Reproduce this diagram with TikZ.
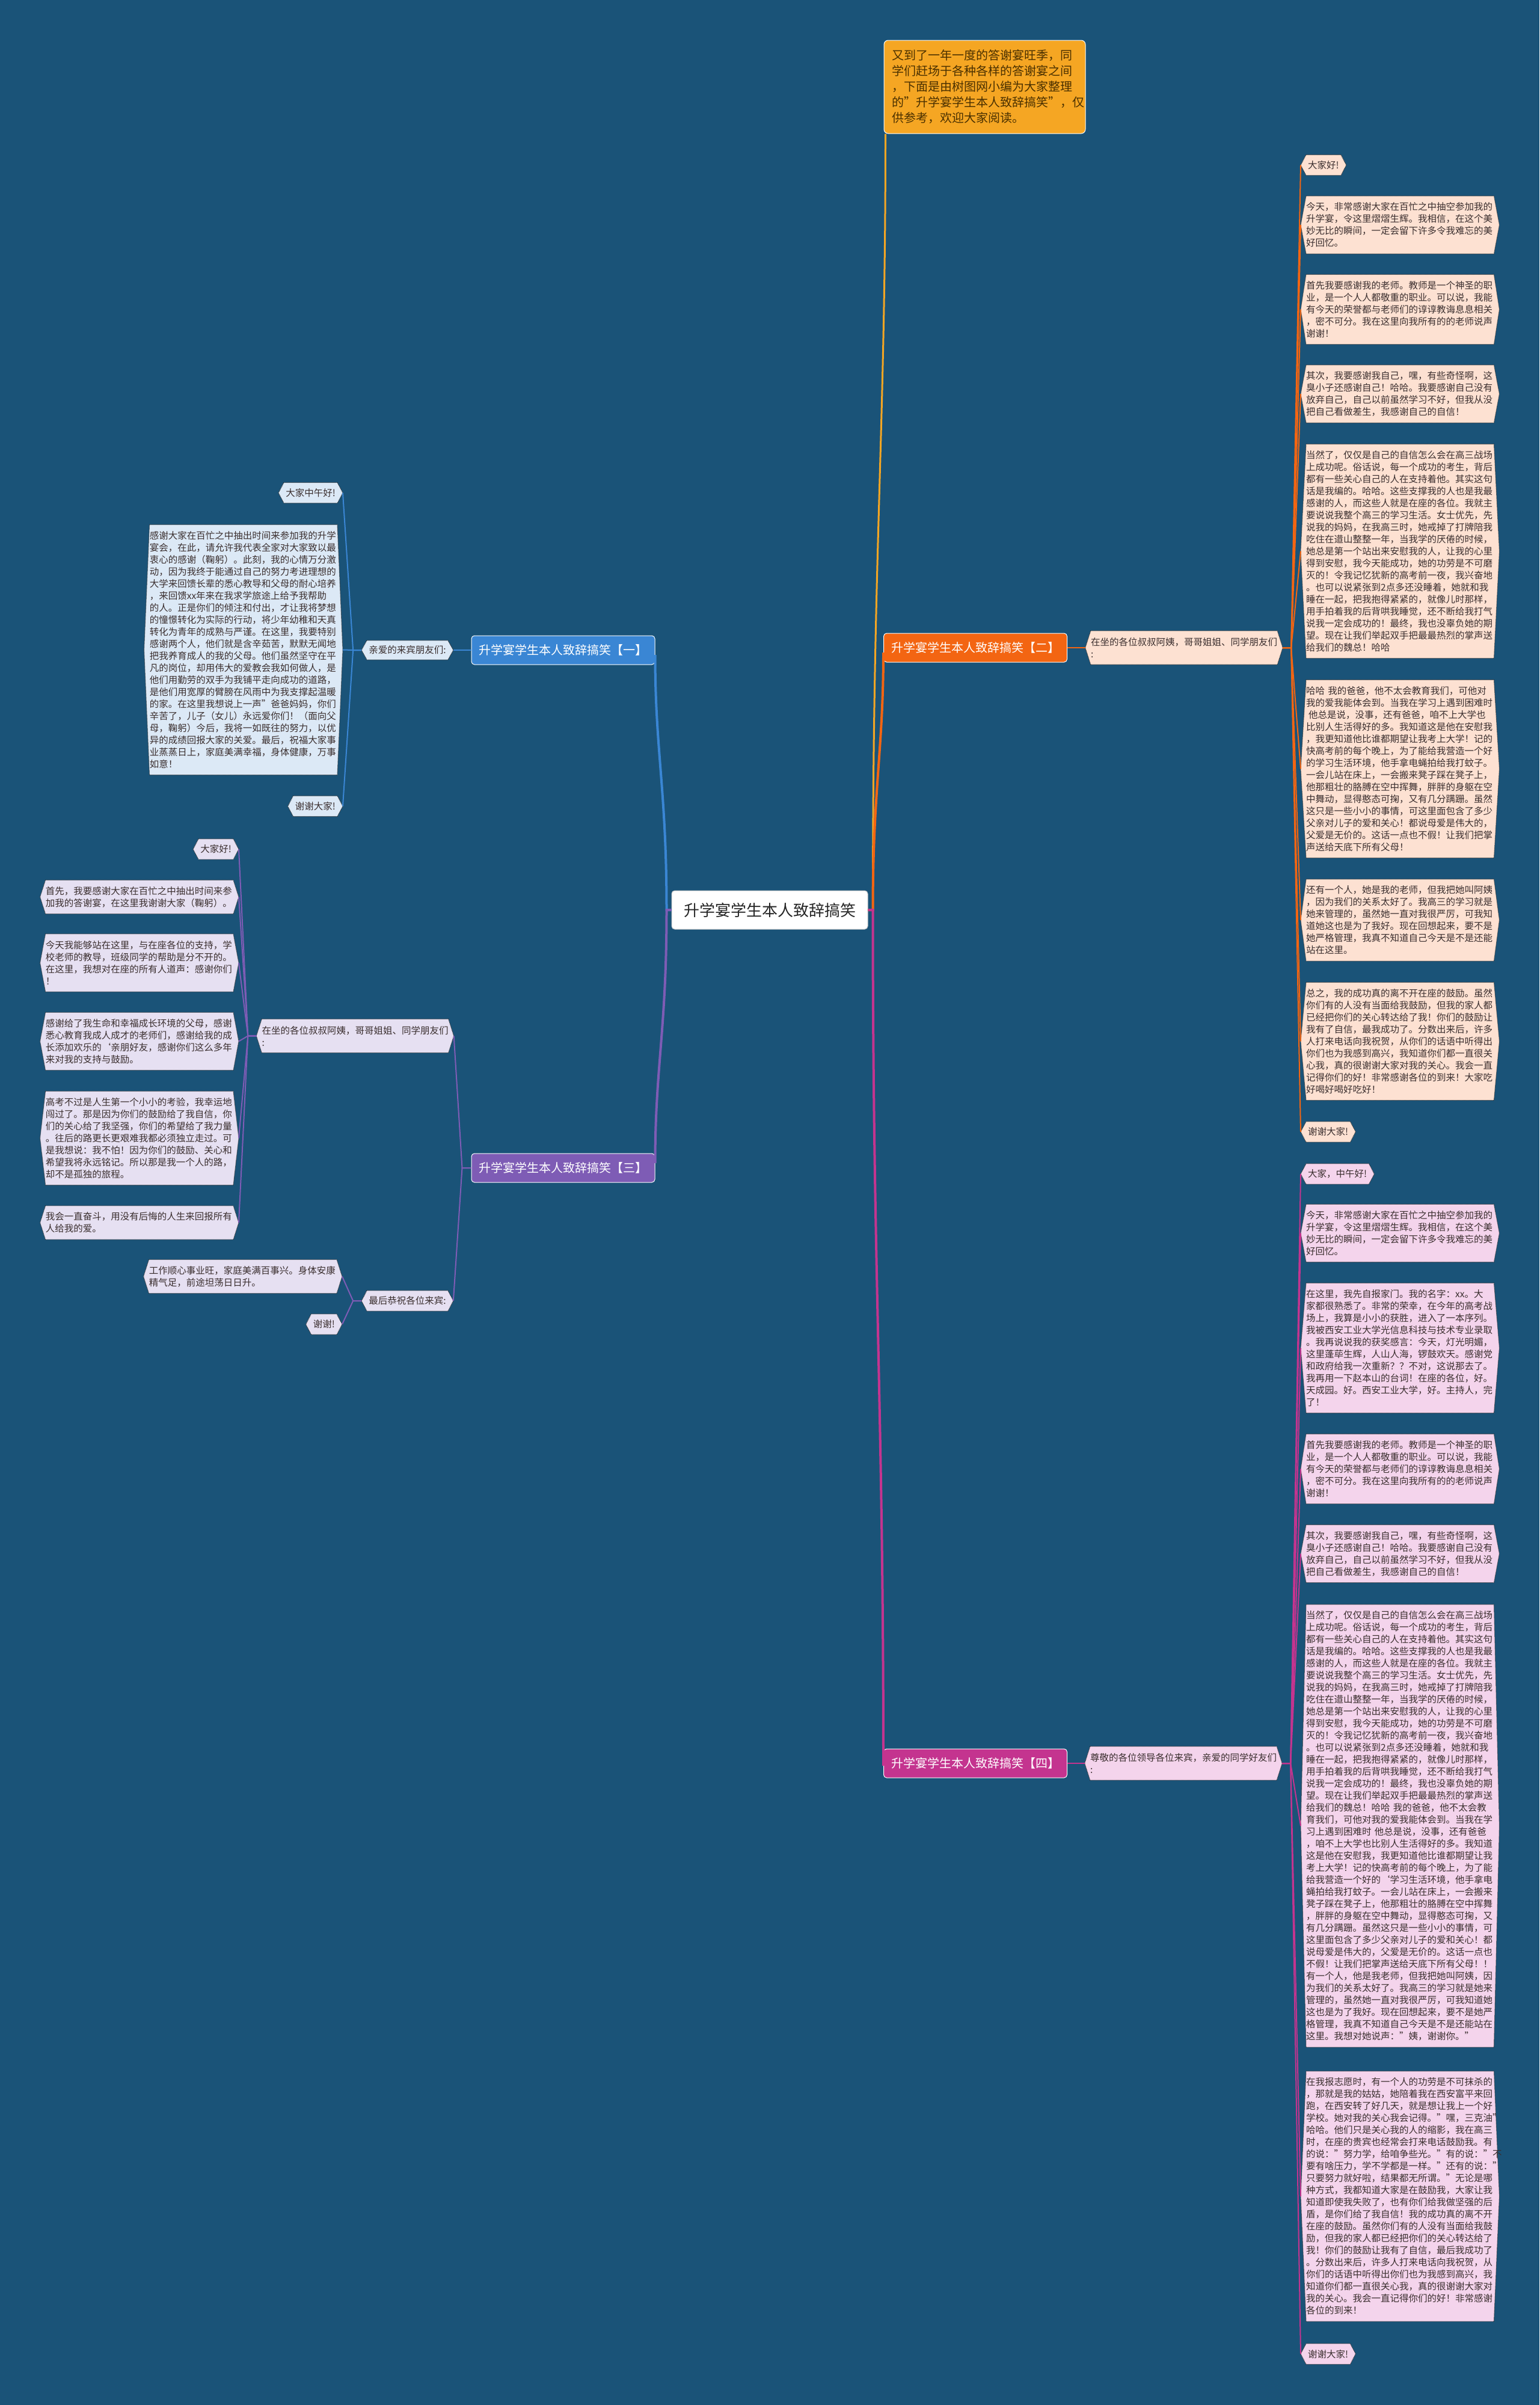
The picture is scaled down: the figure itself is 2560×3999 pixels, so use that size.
\documentclass[tikz,border=0pt]{standalone}
\usepackage{fontspec}
\setmainfont{Noto Sans CJK SC}
\usetikzlibrary{calc}
\pgfdeclarelayer{background}
\pgfsetlayers{background,main}
\definecolor{bgc}{HTML}{1A5378}
\definecolor{leaftxt}{HTML}{3A2E2E}
\definecolor{dotc}{HTML}{2A2A2A}
\definecolor{cblue}{HTML}{3A86D4}
\definecolor{corange}{HTML}{F36512}
\definecolor{cpurple}{HTML}{7E5CB5}
\definecolor{cpink}{HTML}{C4348F}
\definecolor{cnote}{HTML}{F5A623}
\definecolor{fpeach}{HTML}{FDE1D2}
\definecolor{fblue}{HTML}{DCE9F6}
\definecolor{flav}{HTML}{E6E0F2}
\definecolor{fpink}{HTML}{F4D4EC}
\definecolor{notetxt}{HTML}{4A3000}
\newcommand\hexify[2]{%
  \begin{pgfonlayer}{background}
  \path[fill=#2, draw=dotc, line width=1pt, dash pattern=on 1pt off 1pt]
    (#1.north west) -- (#1.north east) -- ($(#1.east)+(9,0)$) -- (#1.south east)
    -- (#1.south west) -- ($(#1.west)+(-9,0)$) -- cycle;
  \end{pgfonlayer}}
\tikzset{
  txt/.style={font=\fontsize{15.5}{20}\selectfont, text=leaftxt},
  big/.style={txt, inner xsep=0pt, inner ysep=0pt, text width=312pt, align=left, minimum height={20*#1+16}},
  small/.style={txt, inner xsep=3pt, inner ysep=0pt, minimum height=34pt},
  lab/.style={txt, inner xsep=3pt, inner ysep=0pt, minimum height=#1, align=left},
  brnode/.style={rectangle, rounded corners=5pt, minimum width=305pt, minimum height=48pt,
    font=\fontsize{20}{24}\selectfont, text=white, draw=white!75, line width=1pt, fill=#1},
  mc/.style={line width=4pt, draw=#1},
  sc/.style={line width=2pt, draw=#1}
}
\begin{document}
\begin{tikzpicture}[x=1pt,y=-1pt]
\useasboundingbox (0,0) rectangle (2560,3999);
\begin{pgfonlayer}{background}
\fill[bgc] (0,0) rectangle (2560,3999);
\end{pgfonlayer}

% centre, note and branches
\node[rectangle, rounded corners=5pt, minimum width=326pt, minimum height=64pt, fill=white!95!blue!3,
  draw=gray!40, line width=1pt, font=\fontsize{26}{30}\selectfont, text=black!85] (ctr) at (1280,1513) {升学宴学生本人致辞搞笑};
\node[rectangle, rounded corners=7pt, minimum width=335pt, minimum height=155pt, text width=308pt,
  inner xsep=13.5pt, align=left, fill=cnote, draw=white!85, line width=1pt,
  font=\fontsize{20}{26}\selectfont, text=notetxt] (note) at (1637.5,144.5)
  {又到了一年一度的答谢宴旺季，同\\学们赶场于各种各样的答谢宴之间\\，下面是由树图网小编为大家整理\\的"升学宴学生本人致辞搞笑"，仅\\供参考，欢迎大家阅读。};
\node[brnode=cblue] (br1) at (936.5,1081) {升学宴学生本人致辞搞笑【一】};
\node[brnode=corange] (br2) at (1622,1077) {升学宴学生本人致辞搞笑【二】};
\node[brnode=cpurple] (br3) at (936.5,1942) {升学宴学生本人致辞搞笑【三】};
\node[brnode=cpink] (br4) at (1622,2932) {升学宴学生本人致辞搞笑【四】};

\coordinate (cr) at ($(ctr.east)+(8,0)$);
\coordinate (cl) at ($(ctr.west)+(-8,0)$);
\draw[mc=cnote, line width=3pt] (ctr.east) -- (cr) .. controls +(0,-600) and +(0,500) .. ($(note.south west)+(3,0)$);
\draw[mc=corange] (ctr.east) -- (cr) .. controls +(0,-200) and +(0,160) .. ($(br2.west)+(0,8)$);
\draw[mc=cpink] (ctr.east) -- (cr) .. controls +(0,600) and +(0,-600) .. ($(br4.west)+(0,4)$);
\draw[mc=cblue] (ctr.west) -- (cl) .. controls +(0,-200) and +(0,160) .. ($(br1.east)+(0,8)$);
\draw[mc=cpurple] (ctr.west) -- (cl) .. controls +(0,200) and +(0,-160) .. ($(br3.east)+(0,-8)$);

% labels
\node[lab=32pt] (l1) at (677.5,1081) {亲爱的来宾朋友们:};
\hexify{l1}{fblue}
\node[lab=56pt, text width=310pt, inner xsep=0pt] (l2) at (1969,1077) {在坐的各位叔叔阿姨，哥哥姐姐、同学朋友们\\:};
\hexify{l2}{fpeach}
\node[lab=56pt, text width=310pt, inner xsep=0pt] (l3a) at (590.5,1722.5) {在坐的各位叔叔阿姨，哥哥姐姐、同学朋友们\\:};
\hexify{l3a}{flav}
\node[lab=34pt] (l3b) at (677.5,2163) {最后恭祝各位来宾:};
\hexify{l3b}{flav}
\node[lab=56pt, text width=310pt, inner xsep=0pt] (l4) at (1968,2932) {尊敬的各位领导各位来宾，亲爱的同学好友们\\:};
\hexify{l4}{fpink}

\draw[sc=cblue] (br1.west) -- ($(l1.east)+(9,0)$);
\draw[sc=corange] (br2.east) -- ($(l2.west)+(-9,0)$);
\draw[sc=cpink] (br4.east) -- ($(l4.west)+(-9,0)$);
\draw[sc=cpurple] (br3.west) -- ++(-15,0) -- ($(l3a.east)+(9,0)$);
\draw[sc=cpurple] (br3.west) -- ++(-15,0) -- ($(l3b.east)+(9,0)$);

% branch two leaves
\node[small, anchor=west] (a1) at (2172,274.5) {大家好!};
\node[big=4, anchor=west] (a2) at (2172,374) {今天，非常感谢大家在百忙之中抽空参加我的\\升学宴，令这里熠熠生辉。我相信，在这个美\\妙无比的瞬间，一定会留下许多令我难忘的美\\好回忆。};
\node[big=5, anchor=west] (a3) at (2172,514.5) {首先我要感谢我的老师。教师是一个神圣的职\\业，是一个人人都敬重的职业。可以说，我能\\有今天的荣誉都与老师们的谆谆教诲息息相关\\，密不可分。我在这里向我所有的的老师说声\\谢谢！};
\node[big=4, anchor=west] (a4) at (2172,655) {其次，我要感谢我自己，嘿，有些奇怪啊，这\\臭小子还感谢自己！哈哈。我要感谢自己没有\\放弃自己，自己以前虽然学习不好，但我从没\\把自己看做差生，我感谢自己的自信！};
\node[big=17, anchor=west] (a5) at (2172,916.5) {当然了，仅仅是自己的自信怎么会在高三战场\\上成功呢。俗话说，每一个成功的考生，背后\\都有一些关心自己的人在支持着他。其实这句\\话是我编的。哈哈。这些支撑我的人也是我最\\感谢的人，而这些人就是在座的各位。我就主\\要说说我整个高三的学习生活。女士优先，先\\说我的妈妈，在我高三时，她戒掉了打牌陪我\\吃住在逪山整整一年，当我学的厌倦的时候，\\她总是第一个站出来安慰我的人，让我的心里\\得到安慰，我今天能成功，她的功劳是不可磨\\灭的！令我记忆犹新的高考前一夜，我兴奋地\\。也可以说紧张到2点多还没睡着，她就和我\\睡在一起，把我抱得紧紧的，就像儿时那样，\\用手拍着我的后背哄我睡觉，还不断给我打气\\说我一定会成功的！最终，我也没辜负她的期\\望。现在让我们举起双手把最最热烈的掌声送\\给我们的魏总！哈哈};
\node[big=14, anchor=west] (a6) at (2172,1278.5) {哈哈 我的爸爸，他不太会教育我们，可他对\\我的爱我能体会到。当我在学习上遇到困难时\\\hspace*{4pt}他总是说，没事，还有爸爸，咱不上大学也\\比别人生活得好的多。我知道这是他在安慰我\\，我更知道他比谁都期望让我考上大学！记的\\快高考前的每个晚上，为了能给我营造一个好\\的学习生活环境，他手拿电蝇拍给我打蚊子。\\一会儿站在床上，一会搬来凳子踩在凳子上，\\他那粗壮的胳膊在空中挥舞，胖胖的身躯在空\\中舞动，显得憨态可掬，又有几分蹒跚。虽然\\这只是一些小小的事情，可这里面包含了多少\\父亲对儿子的爱和关心！都说母爱是伟大的，\\父爱是无价的。这话一点也不假！让我们把掌\\声送给天底下所有父母！};
\node[big=6, anchor=west] (a7) at (2172,1530) {还有一个人，她是我的老师，但我把她叫阿姨\\，因为我们的关系太好了。我高三的学习就是\\她来管理的，虽然她一直对我很严厉，可我知\\道她这也是为了我好。现在回想起来，要不是\\她严格管理，我真不知道自己今天是不是还能\\站在这里。};
\node[big=9, anchor=west] (a8) at (2172,1731.5) {总之，我的成功真的离不开在座的鼓励。虽然\\你们有的人没有当面给我鼓励，但我的家人都\\已经把你们的关心转达给了我！你们的鼓励让\\我有了自信，最我成功了。分数出来后，许多\\人打来电话向我祝贺，从你们的话语中听得出\\你们也为我感到高兴，我知道你们都一直很关\\心我，真的很谢谢大家对我的关心。我会一直\\记得你们的好！非常感谢各位的到来！大家吃\\好喝好喝好吃好！};
\node[small, anchor=west] (a9) at (2172,1882) {谢谢大家!};
\foreach \n in {a1,a2,a3,a4,a5,a6,a7,a8,a9} {\hexify{\n}{fpeach}
  \draw[sc=corange] ($(l2.east)+(9,0)$) -- ++(14,0) -- ($(\n.west)+(-9,0)$);}

% branch four leaves
\node[small, anchor=west] (d1) at (2172,1952) {大家，中午好!};
\node[big=4, anchor=west] (d2) at (2172,2050.5) {今天，非常感谢大家在百忙之中抽空参加我的\\升学宴，令这里熠熠生辉。我相信，在这个美\\妙无比的瞬间，一定会留下许多令我难忘的美\\好回忆。};
\node[big=10, anchor=west] (d3) at (2172,2241.5) {在这里，我先自报家门。我的名字：xx。大\\家都很熟悉了。非常的荣幸，在今年的高考战\\场上，我算是小小的获胜，进入了一本序列。\\我被西安工业大学光信息科技与技术专业录取\\。我再说说我的获奖感言：今天，灯光明媚，\\这里蓬荜生辉，人山人海，锣鼓欢天。感谢党\\和政府给我一次重新？？不对，这说那去了。\\我再用一下赵本山的台词！在座的各位，好。\\天成园。好。西安工业大学，好。主持人，完\\了！};
\node[big=5, anchor=west] (d4) at (2172,2442.5) {首先我要感谢我的老师。教师是一个神圣的职\\业，是一个人人都敬重的职业。可以说，我能\\有今天的荣誉都与老师们的谆谆教诲息息相关\\，密不可分。我在这里向我所有的的老师说声\\谢谢！};
\node[big=4, anchor=west] (d5) at (2172,2583.5) {其次，我要感谢我自己，嘿，有些奇怪啊，这\\臭小子还感谢自己！哈哈。我要感谢自己没有\\放弃自己，自己以前虽然学习不好，但我从没\\把自己看做差生，我感谢自己的自信！};
\node[big=36, anchor=west] (d6) at (2172,3036) {当然了，仅仅是自己的自信怎么会在高三战场\\上成功呢。俗话说，每一个成功的考生，背后\\都有一些关心自己的人在支持着他。其实这句\\话是我编的。哈哈。这些支撑我的人也是我最\\感谢的人，而这些人就是在座的各位。我就主\\要说说我整个高三的学习生活。女士优先，先\\说我的妈妈，在我高三时，她戒掉了打牌陪我\\吃住在逪山整整一年，当我学的厌倦的时候，\\她总是第一个站出来安慰我的人，让我的心里\\得到安慰，我今天能成功，她的功劳是不可磨\\灭的！令我记忆犹新的高考前一夜，我兴奋地\\。也可以说紧张到2点多还没睡着，她就和我\\睡在一起，把我抱得紧紧的，就像儿时那样，\\用手拍着我的后背哄我睡觉，还不断给我打气\\说我一定会成功的！最终，我也没辜负她的期\\望。现在让我们举起双手把最最热烈的掌声送\\给我们的魏总！哈哈 我的爸爸，他不太会教\\育我们，可他对我的爱我能体会到。当我在学\\习上遇到困难时 他总是说，没事，还有爸爸\\，咱不上大学也比别人生活得好的多。我知道\\这是他在安慰我，我更知道他比谁都期望让我\\考上大学！记的快高考前的每个晚上，为了能\\给我营造一个好的`学习生活环境，他手拿电\\蝇拍给我打蚊子。一会儿站在床上，一会搬来\\凳子踩在凳子上，他那粗壮的胳膊在空中挥舞\\，胖胖的身躯在空中舞动，显得憨态可掬，又\\有几分蹒跚。虽然这只是一些小小的事情，可\\这里面包含了多少父亲对儿子的爱和关心！都\\说母爱是伟大的，父爱是无价的。这话一点也\\不假！让我们把掌声送给天底下所有父母！！\\有一个人，他是我老师，但我把她叫阿姨，因\\为我们的关系太好了。我高三的学习就是她来\\管理的，虽然她一直对我很严厉，可我知道她\\这也是为了我好。现在回想起来，要不是她严\\格管理，我真不知道自己今天是不是还能站在\\这里。我想对她说声："姨，谢谢你。"};
\node[big=20, anchor=west] (d7) at (2172,3652) {在我报志愿时，有一个人的功劳是不可抹杀的\\，那就是我的姑姑，她陪着我在西安富平来回\\跑，在西安转了好几天，就是想让我上一个好\\学校。她对我的关心我会记得。"嘿，三克油"\\哈哈。他们只是关心我的人的缩影，我在高三\\时，在座的贵宾也经常会打来电话鼓励我。有\\的说："努力学，给咱争些光。"有的说："不\\要有啥压力，学不学都是一样。"还有的说："\\只要努力就好啦，结果都无所谓。"无论是哪\\种方式，我都知道大家是在鼓励我，大家让我\\知道即使我失败了，也有你们给我做坚强的后\\盾，是你们给了我自信！我的成功真的离不开\\在座的鼓励。虽然你们有的人没有当面给我鼓\\励，但我的家人都已经把你们的关心转达给了\\我！你们的鼓励让我有了自信，最后我成功了\\。分数出来后，许多人打来电话向我祝贺，从\\你们的话语中听得出你们也为我感到高兴，我\\知道你们都一直很关心我，真的很谢谢大家对\\我的关心。我会一直记得你们的好！非常感谢\\各位的到来！};
\node[small, anchor=west] (d8) at (2172,3914) {谢谢大家!};
\foreach \n in {d1,d2,d3,d4,d5,d6,d7,d8} {\hexify{\n}{fpink}
  \draw[sc=cpink] ($(l4.east)+(9,0)$) -- ++(14,0) -- ($(\n.west)+(-9,0)$);}

% branch one leaves
\node[small, anchor=east] (b1) at (561,819.5) {大家中午好!};
\node[big=20, anchor=east] (b2) at (561,1080.5) {感谢大家在百忙之中抽出时间来参加我的升学\\宴会，在此，请允许我代表全家对大家致以最\\衷心的感谢（鞠躬）。此刻，我的心情万分激\\动，因为我终于能通过自己的努力考进理想的\\大学来回馈长辈的悉心教导和父母的耐心培养\\，来回馈xx年来在我求学旅途上给予我帮助\\的人。正是你们的倾注和付出，才让我将梦想\\的憧憬转化为实际的行动，将少年幼稚和天真\\转化为青年的成熟与严谨。在这里，我要特别\\感谢两个人，他们就是含辛茹苦，默默无闻地\\把我养育成人的我的父母。他们虽然坚守在平\\凡的岗位，却用伟大的爱教会我如何做人，是\\他们用勤劳的双手为我铺平走向成功的道路，\\是他们用宽厚的臂膀在风雨中为我支撑起温暖\\的家。在这里我想说上一声"爸爸妈妈，你们\\辛苦了，儿子（女儿）永远爱你们！（面向父\\母，鞠躬）今后，我将一如既往的努力，以优\\异的成绩回报大家的关爱。最后，祝福大家事\\业蒸蒸日上，家庭美满幸福，身体健康，万事\\如意！};
\node[small, anchor=east] (b3) at (561,1340.5) {谢谢大家!};
\foreach \n in {b1,b2,b3} {\hexify{\n}{fblue}
  \draw[sc=cblue] ($(l1.west)+(-9,0)$) -- ++(-14,0) -- ($(\n.east)+(9,0)$);}

% branch three leaves
\node[small, anchor=east] (c1) at (388,1412) {大家好!};
\node[big=2, anchor=east] (c2) at (388,1491.5) {首先，我要感谢大家在百忙之中抽出时间来参\\加我的答谢宴，在这里我谢谢大家（鞠躬）。};
\node[big=4, anchor=east] (c3) at (388,1601) {今天我能够站在这里，与在座各位的支持，学\\校老师的教导，班级同学的帮助是分不开的。\\在这里，我想对在座的所有人道声：感谢你们\\！};
\node[big=4, anchor=east] (c4) at (388,1731.5) {感谢给了我生命和幸福成长环境的父母，感谢\\悉心教育我成人成才的老师们，感谢给我的成\\长添加欢乐的`亲朋好友，感谢你们这么多年\\来对我的支持与鼓励。};
\node[big=7, anchor=east] (c5) at (388,1892.5) {高考不过是人生第一个小小的考验，我幸运地\\闯过了。那是因为你们的鼓励给了我自信，你\\们的关心给了我坚强，你们的希望给了我力量\\。往后的路更长更艰难我都必须独立走过。可\\是我想说：我不怕！因为你们的鼓励、关心和\\希望我将永远铭记。所以那是我一个人的路，\\却不是孤独的旅程。};
\node[big=2, anchor=east] (c6) at (388,2033) {我会一直奋斗，用没有后悔的人生来回报所有\\人给我的爱。};
\foreach \n in {c1,c2,c3,c4,c5,c6} {\hexify{\n}{flav}
  \draw[sc=cpurple] ($(l3a.west)+(-9,0)$) -- ++(-14,0) -- ($(\n.east)+(9,0)$);}
\node[big=2, anchor=east] (c7) at (560,2122.5) {工作顺心事业旺，家庭美满百事兴。身体安康\\精气足，前途坦荡日日升。};
\node[small, anchor=east] (c8) at (560,2202) {谢谢!};
\foreach \n in {c7,c8} {\hexify{\n}{flav}
  \draw[sc=cpurple] ($(l3b.west)+(-9,0)$) -- ++(-14,0) -- ($(\n.east)+(9,0)$);}
\end{tikzpicture}
\end{document}
